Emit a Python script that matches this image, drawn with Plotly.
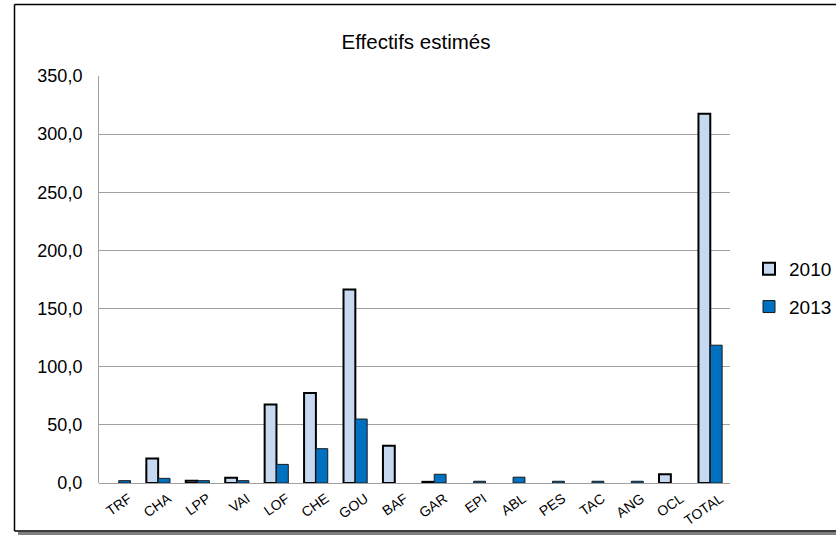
import plotly.graph_objects as go

# Estimated counts per species code, two survey years (None = empty cell)
categories = ["TRF", "CHA", "LPP", "VAI", "LOF", "CHE", "GOU", "BAF",
              "GAR", "EPI", "ABL", "PES", "TAC", "ANG", "OCL", "TOTAL"]
values_2010 = [None, 21, 2, 4.5, 67.5, 77.5, 166.5, 32,
               1, None, None, None, None, None, 7.5, 317.5]
values_2013 = [2, 4, 2, 2, 16, 29.5, 55, None,
               7.5, 1.5, 5, 1.5, 1.5, 1.5, None, 118.5]
y_ticks = [0, 50, 100, 150, 200, 250, 300, 350]

W, H = 836, 535
L, R, T, B = 99, 730, 76, 483  # plot area in pixels


def px_x(p):
    return (p - L) / (R - L)


def px_y(p):
    return (B - p) / (B - T)


fig = go.Figure()
fig.add_trace(go.Bar(
    x=categories, y=values_2010, name="2010", legendgroup="a",
    marker=dict(color="#C6D9F1", line=dict(color="#000000", width=2)),
))
fig.add_trace(go.Bar(
    x=categories, y=values_2013, name="2013", legendgroup="b",
    marker=dict(color="#0070C0", line=dict(color="#1a1a1a", width=1)),
))

font = "Liberation Sans, Arial, sans-serif"


def frame_line(x0, y0, x1, y1, color="#000000", width=1.5):
    return dict(type="line", xref="paper", yref="paper",
                x0=px_x(x0), y0=px_y(y0), x1=px_x(x1), y1=px_y(y1),
                line=dict(color=color, width=width), layer="below")


fig.update_layout(
    width=W, height=H,
    margin=dict(l=L, r=W - R, t=T, b=H - B, autoexpand=False),
    paper_bgcolor="white", plot_bgcolor="white",
    barmode="group", bargap=0.4, bargroupgap=0,
    font=dict(family=font, color="#000000"),
    title=dict(text="Effectifs estimés", x=px_x(416), xref="paper",
               xanchor="center", y=1 - 42 / H, yanchor="middle",
               font=dict(size=20.5, family=font, color="#000000")),
    legend=dict(x=px_x(749), xanchor="left", y=px_y(288), yanchor="middle",
                font=dict(size=19, family=font), tracegroupgap=10,
                bgcolor="rgba(0,0,0,0)", itemwidth=30),
    showlegend=True,
    xaxis=dict(tickangle=-35, tickfont=dict(size=14, family=font),
               showline=False, ticks="", showgrid=False,
               ticklabelshift=10, ticklabelstandoff=4),
    yaxis=dict(range=[0, 350], tickvals=y_ticks, tickformat=".1f",
               tickfont=dict(size=18, family=font),
               showgrid=True, gridcolor="#A0A0A0", gridwidth=1,
               showline=True, linecolor="#A0A0A0", linewidth=1,
               zeroline=True, zerolinecolor="#A0A0A0", zerolinewidth=1,
               ticks="", ticklabelstandoff=12),
    separators=", ",
    shapes=[
        # drop shadow along the bottom of the chart frame
        frame_line(18, 533.5, 836, 533.5, color="#808080", width=3.5),
        # chart frame (its right edge lies past the visible area)
        frame_line(14.5, 4.5, 836, 4.5),
        frame_line(14.5, 4.5, 14.5, 531),
        frame_line(14.5, 531, 836, 531),
    ],
)

fig.write_html("out.html")
